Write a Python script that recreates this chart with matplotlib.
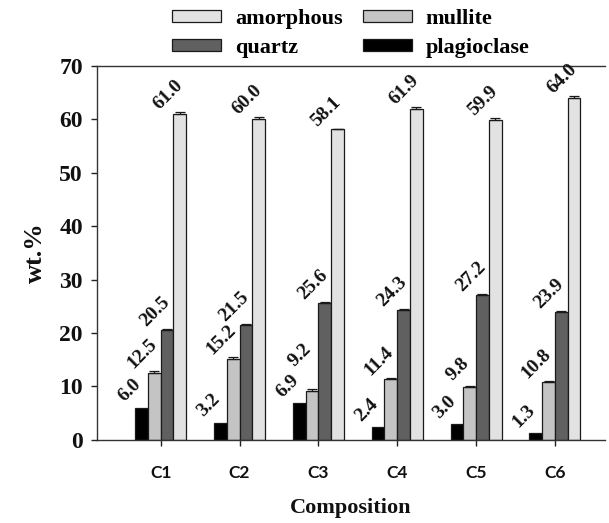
import numpy as np
import matplotlib
matplotlib.use("Agg")
import matplotlib.pyplot as plt

categories = ["C1", "C2", "C3", "C4", "C5", "C6"]
series_names = ["plagioclase", "mullite", "quartz", "amorphous"]
plagioclase = [6.0, 3.2, 6.9, 2.4, 3.0, 1.3]
mullite = [12.5, 15.2, 9.2, 11.4, 9.8, 10.8]
quartz = [20.5, 21.5, 25.6, 24.3, 27.2, 23.9]
amorphous = [61.0, 60.0, 58.1, 61.9, 59.9, 64.0]
plagioclase_err = [0.0, 0.0, 0.0, 0.0, 0.0, 0.0]
mullite_err = [0.4, 0.4, 0.3, 0.2, 0.3, 0.3]
quartz_err = [0.2, 0.2, 0.2, 0.2, 0.1, 0.2]
amorphous_err = [0.4, 0.4, 0.1, 0.4, 0.4, 0.4]
yticks = [0, 10, 20, 30, 40, 50, 60, 70]

values = [plagioclase, mullite, quartz, amorphous]
errors = [plagioclase_err, mullite_err, quartz_err, amorphous_err]
colors = ["#000000", "#c4c4c4", "#606060", "#e2e2e2"]

serif = "Liberation Serif"

fig = plt.figure(figsize=(6.09, 5.23), dpi=100)
ax = fig.add_axes([0.159, 0.159, 0.835, 0.715])

x = np.arange(len(categories))
w = 0.162
offsets = [-1.5 * w, -0.5 * w, 0.5 * w, 1.5 * w]
label_gap = 3.2      # data units between bar top and label centre
min_sep = 5.8        # minimum vertical separation between labels in a group
prev_label = np.full(len(categories), -np.inf)
bars = {}
for name, vals, errs, col, off in zip(series_names, values, errors, colors, offsets):
    errs = np.array(errs)
    vals = np.array(vals)
    b = ax.bar(x + off, vals, w, color=col, edgecolor="#1a1a1a", linewidth=0.9, label=name, zorder=2)
    bars[name] = b
    if errs.any():
        ax.errorbar(x + off, vals, yerr=[np.zeros_like(errs), errs], fmt="none",
                    ecolor="#1a1a1a", elinewidth=0.9, capsize=3.6, capthick=0.9, zorder=3)
    ylab = np.maximum(vals + errs + label_gap, prev_label + min_sep)
    prev_label = ylab
    for xi, v, yl in zip(x + off, vals, ylab):
        ax.annotate(f"{v:.1f}", xy=(xi, yl), xytext=(-8.5, 0), textcoords="offset points",
                    ha="center", va="center", rotation=45, fontfamily=serif,
                    fontweight="bold", fontsize=14, color="#111111")

ax.set_xlim(-0.81, 5.64)
ax.set_ylim(0, 70)
ax.set_yticks(yticks)
ax.set_yticklabels([str(t) for t in yticks], fontfamily=serif, fontweight="bold", fontsize=17)
ax.set_xticks(x)
ax.set_xticklabels(categories, fontfamily="Lato", fontweight="bold", fontsize=12.5)
ax.tick_params(axis="x", direction="inout", length=8, width=1, pad=14, colors="#222222")
ax.tick_params(axis="y", direction="out", length=4, width=1, pad=6, colors="#222222")
for lbl in ax.get_xticklabels() + ax.get_yticklabels():
    lbl.set_color("#111111")

ax.spines["right"].set_visible(False)
for s in ["left", "bottom", "top"]:
    ax.spines[s].set_color("#333333")
    ax.spines[s].set_linewidth(1.0)

ax.set_ylabel("wt.%", fontfamily=serif, fontweight="bold", fontsize=19, labelpad=9, color="#111111")
ax.set_xlabel("Composition", fontfamily=serif, fontweight="bold", fontsize=16, labelpad=12, color="#111111")

handles = [bars["amorphous"], bars["quartz"], bars["mullite"], bars["plagioclase"]]
labels = ["amorphous", "quartz", "mullite", "plagioclase"]
leg = fig.legend(handles, labels, ncol=2, loc="upper left", bbox_to_anchor=(0.268, 1.0),
                 borderaxespad=0, frameon=False, prop={"family": serif, "weight": "bold", "size": 16},
                 handlelength=2.2, handleheight=0.45, handletextpad=0.63,
                 columnspacing=0.9, labelspacing=0.4)

fig.savefig("out.png", dpi=100)
